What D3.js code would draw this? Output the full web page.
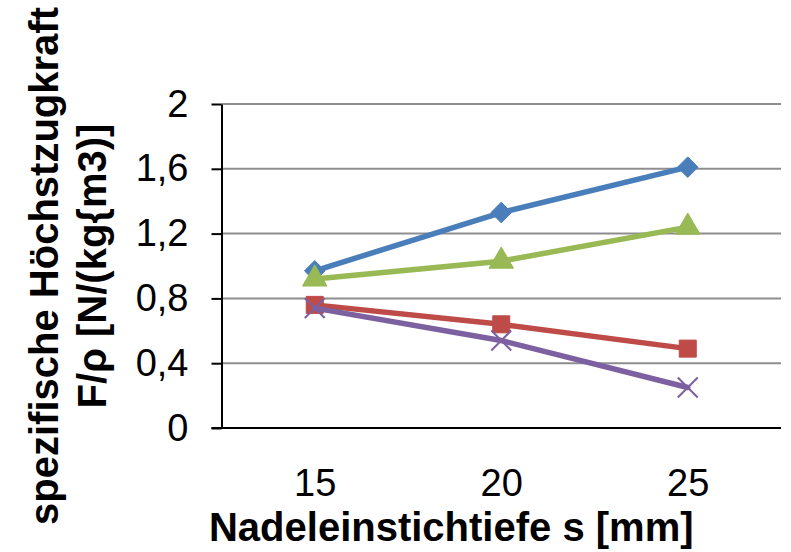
<!DOCTYPE html>
<html>
<head>
<meta charset="utf-8">
<script src="https://cdn.jsdelivr.net/npm/d3@7"></script>
<style>
  html, body { margin: 0; padding: 0; background: #fff; }
  svg { display: block; }
  text { font-family: "Liberation Sans", Arial, sans-serif; fill: #000; }
</style>
</head>
<body>
<svg id="chart" width="791" height="552"></svg>
<script>
// Nadeleinstichtiefe (mm) on the category axis
const categories = ["15", "20", "25"];

// specific maximum tensile force per series
const seriesBlue   = [0.97, 1.33, 1.61];
const seriesRed    = [0.76, 0.64, 0.49];
const seriesGreen  = [0.92, 1.03, 1.24];
const seriesPurple = [0.74, 0.54, 0.25];

const yTicks = [0, 0.4, 0.8, 1.2, 1.6, 2];
const yTickLabels = ["0", "0,4", "0,8", "1,2", "1,6", "2"];

const yTitleLines = ["spezifische Höchstzugkraft", "F/ρ [N/(kg{m3)]"];
const xTitle = "Nadeleinstichtiefe s [mm]";

const series = [
  { values: seriesBlue,   color: "#4A7EBB", marker: "diamond" },
  { values: seriesRed,    color: "#BE4B48", marker: "square" },
  { values: seriesGreen,  color: "#98B954", marker: "triangle" },
  { values: seriesPurple, color: "#7D60A0", marker: "cross" }
];

const plot = { left: 221.5, right: 781, top: 104, bottom: 428 };

const svg = d3.select("#chart");

const x = d3.scalePoint()
  .domain(categories)
  .range([plot.left, plot.right])
  .padding(0.5);

const y = d3.scaleLinear()
  .domain([0, 2])
  .range([plot.bottom, plot.top]);

// horizontal gridlines
svg.append("g")
  .selectAll("line")
  .data(yTicks.filter(d => d > 0))
  .join("line")
  .attr("x1", plot.left)
  .attr("x2", plot.right)
  .attr("y1", d => y(d))
  .attr("y2", d => y(d))
  .attr("stroke", "#8E8E8E")
  .attr("stroke-width", 2);

// y axis with outside ticks
const yAxis = d3.axisLeft(y)
  .tickValues(yTicks)
  .tickFormat((d, i) => yTickLabels[i])
  .tickSizeInner(10)
  .tickSizeOuter(0)
  .tickPadding(23);

const gy = svg.append("g")
  .attr("transform", `translate(${plot.left},0)`)
  .call(yAxis);
gy.select(".domain").attr("stroke", "#000").attr("stroke-width", 2);
gy.selectAll(".tick line").attr("stroke", "#000").attr("stroke-width", 2);
gy.selectAll(".tick text")
  .attr("font-size", 38)
  .attr("font-family", "Liberation Sans, Arial, sans-serif")
  .attr("fill", "#000");

// x axis (category labels, no tick marks)
const xAxis = d3.axisBottom(x)
  .tickSize(0)
  .tickPadding(41);

const gx = svg.append("g")
  .attr("transform", `translate(0,${plot.bottom})`)
  .call(xAxis);
gx.select(".domain").remove();
gx.selectAll(".tick text")
  .attr("font-size", 38)
  .attr("font-family", "Liberation Sans, Arial, sans-serif")
  .attr("fill", "#000");

svg.append("line")
  .attr("x1", plot.left - 10)
  .attr("x2", plot.right)
  .attr("y1", plot.bottom)
  .attr("y2", plot.bottom)
  .attr("stroke", "#000")
  .attr("stroke-width", 2);

// series lines and markers
const line = d3.line()
  .x((d, i) => x(categories[i]))
  .y(d => y(d));

const symbolFor = {
  diamond: d3.symbol().type(d3.symbolDiamond2).size(270),
  square: d3.symbol().type(d3.symbolSquare).size(290),
  triangle: d3.symbol().type(d3.symbolTriangle).size(260),
  cross: d3.symbol().type(d3.symbolX).size(260)
};

series.forEach(s => {
  const g = svg.append("g");
  g.append("path")
    .datum(s.values)
    .attr("d", line)
    .attr("fill", "none")
    .attr("stroke", s.color)
    .attr("stroke-width", 5.5)
    .attr("stroke-linejoin", "round")
    .attr("stroke-linecap", "round");

  g.selectAll("path.marker")
    .data(s.values)
    .join("path")
    .attr("class", "marker")
    .attr("transform", (d, i) => `translate(${x(categories[i])},${y(d)})`)
    .attr("d", symbolFor[s.marker])
    .attr("fill", s.marker === "cross" ? "none" : s.color)
    .attr("stroke", s.color)
    .attr("stroke-width", s.marker === "cross" ? 2 : 1);
});

// axis titles
const yTitle = svg.append("text")
  .attr("transform", `translate(0,${(plot.top + plot.bottom) / 2}) rotate(-90)`)
  .attr("text-anchor", "middle")
  .attr("font-size", 40)
  .attr("font-weight", "bold");
yTitle.selectAll("tspan")
  .data(yTitleLines)
  .join("tspan")
  .attr("x", 0)
  .attr("y", (d, i) => 58 + i * 48)
  .text(d => d);

svg.append("text")
  .attr("x", (plot.left + plot.right) / 2 - 50)
  .attr("y", 541)
  .attr("text-anchor", "middle")
  .attr("font-size", 40)
  .attr("font-weight", "bold")
  .text(xTitle);
</script>
</body>
</html>
